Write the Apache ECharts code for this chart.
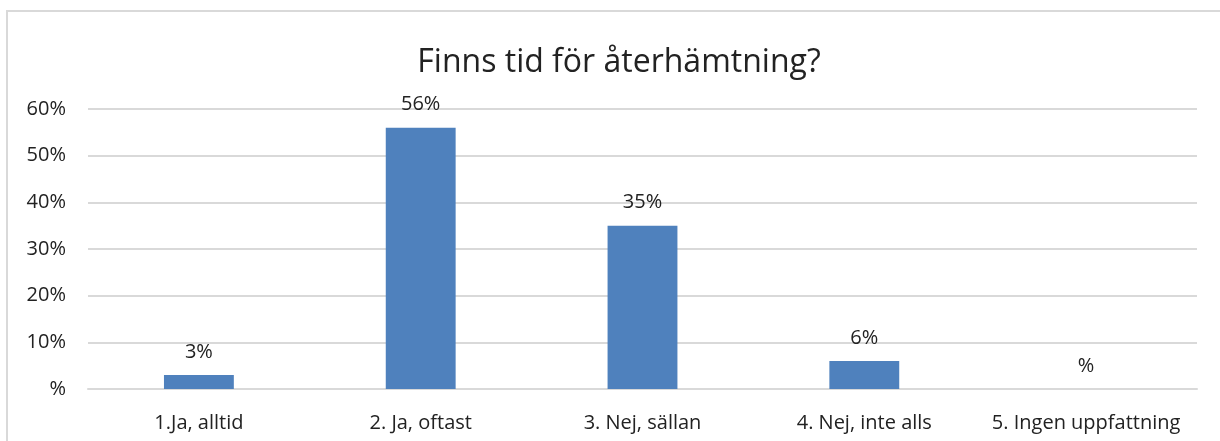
<!DOCTYPE html>
<html>
<head>
<meta charset="utf-8">
<script src="https://cdn.jsdelivr.net/npm/echarts@6/dist/echarts.min.js"></script>
<style>
  html, body { margin: 0; padding: 0; background: #fff; }
  #frame { position: absolute; left: 6px; top: 10px; width: 1214px; height: 431px;
           border-left: 2px solid #d9d9d9; border-top: 2px solid #d9d9d9; box-sizing: border-box; }
  #main { position: absolute; left: 0; top: 0; width: 1220px; height: 441px; }
</style>
</head>
<body>
<div id="frame"></div>
<div id="main"></div>
<script>
// svar på frågan, andel i procent
var categories = ['1.Ja, alltid', '2. Ja, oftast', '3. Nej, sällan', '4. Nej, inte alls', '5. Ingen uppfattning']
var values = [3, 56, 35, 6, 0]
var yTicks = [0, 10, 20, 30, 40, 50, 60]

// Excel-format "#%": noll visas bara som "%"
function pct (v) {
  return v === 0 ? '%' : v + '%'
}

var chart = echarts.init(document.getElementById('main'))
var font = '"Open Sans", "Noto Sans", sans-serif'

var option = {
  animation: false,
  title: {
    text: 'Finns tid för återhämtning?',
    left: 614,
    textAlign: 'center',
    top: 42,
    textStyle: {
      fontFamily: font,
      fontSize: 32,
      fontWeight: 'normal',
      color: '#222'
    }
  },
  grid: {
    left: 88,
    right: 23,
    top: 109,
    bottom: 52
  },
  xAxis: {
    type: 'category',
    data: categories,
    axisTick: { show: false },
    axisLine: { lineStyle: { color: '#d9d9d9', width: 2 } },
    axisLabel: {
      interval: 0,
      hideOverlap: false,
      margin: 24,
      fontFamily: font,
      fontSize: 20,
      color: '#222'
    }
  },
  yAxis: {
    type: 'value',
    min: yTicks[0],
    max: yTicks[yTicks.length - 1],
    interval: 10,
    axisLine: { show: false },
    axisTick: { show: false },
    splitLine: { lineStyle: { color: '#d9d9d9', width: 2 } },
    axisLabel: {
      margin: 22,
      fontFamily: font,
      fontSize: 20,
      color: '#222',
      formatter: pct
    }
  },
  series: [
    {
      type: 'bar',
      data: values,
      barWidth: '31.5%',
      itemStyle: { color: '#4f81bd' },
      label: {
        show: true,
        position: 'top',
        distance: 13,
        fontFamily: font,
        fontSize: 20,
        color: '#222',
        formatter: function (p) { return pct(p.value) }
      }
    }
  ]
}

chart.setOption(option)
</script>
</body>
</html>
